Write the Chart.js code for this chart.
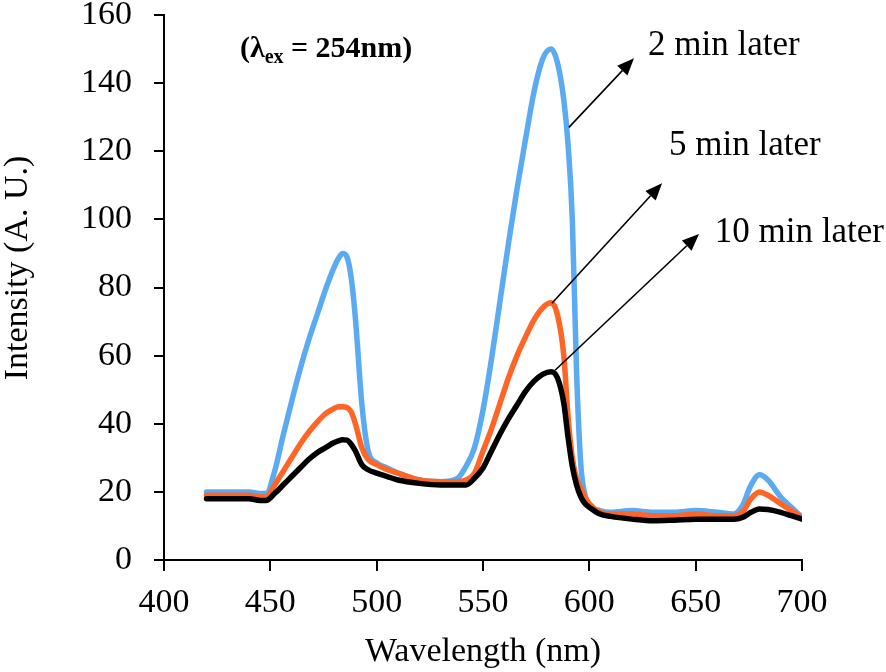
<!DOCTYPE html>
<html>
<head>
<meta charset="utf-8">
<script src="https://cdn.jsdelivr.net/npm/chart.js@4.4.1/dist/chart.umd.min.js"></script>
<style>
  html, body { margin: 0; padding: 0; background: #fff; }
  #wrap { width: 886px; height: 672px; }
</style>
</head>
<body>
<div id="wrap"><canvas id="spectra" width="886" height="672"></canvas></div>
<script>
// wavelength grid (nm) shared by the three spectra
const wavelengths = [420, 430, 440, 445, 448, 452, 456, 460, 464, 468, 472, 476, 480, 482, 484, 486, 488, 490, 493, 496, 500, 505,
  510, 520, 530, 538, 542, 546, 550, 554, 558, 562, 566, 570, 574, 578, 582, 585, 588, 590, 592, 594,
  596, 598, 600, 605, 610, 620, 630, 640, 650, 660, 668, 672, 676, 680, 684, 690, 695, 700];

// intensity
const twoMin = [20, 20, 20, 19.5, 19.5, 26, 36.5, 46.5, 56, 64.5, 72, 79.5, 86, 88.5, 90, 89, 83, 71, 46, 32, 28.5, 27,
  25.5, 23.5, 23, 24, 27.5, 33, 44, 59, 76, 93, 109, 123.5, 137.5, 147, 150, 146, 135, 122, 100, 55,
  28, 19, 16, 14.5, 14, 14.5, 14, 14, 14.5, 14, 13.5, 16, 22, 25, 23.5, 18.5, 15.5, 12.5];
const fiveMin = [19, 19, 19, 18.5, 18.5, 22, 26, 30, 34, 37.5, 40.5, 43, 44.5, 45, 45, 44.8, 43.5, 40, 33, 29.5, 28, 26.5,
  25.5, 23.5, 23, 23, 23.5, 25.5, 32, 38.5, 46, 53.5, 60, 65.5, 70.5, 74, 75.5, 72, 60, 42, 30, 24,
  21, 18.5, 16.5, 14, 13.5, 13.5, 13, 13, 13.5, 13, 13, 14, 18, 20, 19, 16.5, 14.5, 12.5];
const tenMin = [18, 18, 18, 17.5, 17.5, 19.5, 22, 24.5, 27, 29.5, 31.5, 33, 34.5, 35, 35.3, 35.2, 34, 32, 28, 26.5, 25.5, 24.5,
  23.5, 22.5, 22, 22, 22, 24, 27, 32, 37, 41.5, 45.5, 49.5, 52.5, 54.5, 55.3, 53.5, 46, 36, 27.5, 22,
  18.5, 16.5, 15.5, 13.5, 12.8, 12, 11.5, 11.7, 12, 12, 12, 12.5, 14, 15, 14.8, 14, 13, 12];

const seriesNames = ['2 min later', '5 min later', '10 min later'];
const xTicks = [400, 450, 500, 550, 600, 650, 700];
const yTicks = [0, 20, 40, 60, 80, 100, 120, 140, 160];

const serif = "'Liberation Serif', 'Times New Roman', serif";

function pts(vals) {
  return wavelengths.map((w, i) => ({ x: w, y: vals[i] }));
}

// annotation text + arrows, anchored in data units
const arrowNotes = [
  { from: [590.4, 127], to: [621, 147.3], label: seriesNames[0], at: [627.6, 148.2] },
  { from: [582.4, 75.4], to: [634.2, 110.6], label: seriesNames[1], at: [637.5, 118.8] },
  { from: [583.9, 55.7], to: [651.6, 95.7], label: seriesNames[2], at: [659, 93.3] }
];

const notesPlugin = {
  id: 'notes',
  afterDatasetsDraw(chart) {
    const ctx = chart.ctx;
    const xs = chart.scales.x, ys = chart.scales.y;
    ctx.save();
    ctx.fillStyle = '#000';
    ctx.strokeStyle = '#000';
    ctx.lineWidth = 1.6;
    arrowNotes.forEach(n => {
      const x0 = xs.getPixelForValue(n.from[0]), y0 = ys.getPixelForValue(n.from[1]);
      const x1 = xs.getPixelForValue(n.to[0]), y1 = ys.getPixelForValue(n.to[1]);
      const ang = Math.atan2(y1 - y0, x1 - x0);
      const len = 17, half = 7;
      const bx = x1 - len * Math.cos(ang), by = y1 - len * Math.sin(ang);
      ctx.beginPath();
      ctx.moveTo(x0, y0);
      ctx.lineTo(bx, by);
      ctx.stroke();
      ctx.beginPath();
      ctx.moveTo(x1, y1);
      ctx.lineTo(bx + half * Math.sin(ang), by - half * Math.cos(ang));
      ctx.lineTo(bx - half * Math.sin(ang), by + half * Math.cos(ang));
      ctx.closePath();
      ctx.fill();
      ctx.font = '35px ' + serif;
      ctx.textAlign = 'left';
      ctx.textBaseline = 'alphabetic';
      ctx.fillText(n.label, xs.getPixelForValue(n.at[0]), ys.getPixelForValue(n.at[1]));
    });

    // excitation note
    let tx = xs.getPixelForValue(435.7);
    const ty = ys.getPixelForValue(147.6);
    ctx.font = 'bold 30px ' + serif;
    ctx.fillText('(\u03bb', tx, ty);
    tx += ctx.measureText('(\u03bb').width;
    ctx.font = 'bold 20px ' + serif;
    ctx.fillText('ex', tx, ty + 6);
    tx += ctx.measureText('ex').width;
    ctx.font = 'bold 30px ' + serif;
    ctx.fillText(' = 254nm)', tx, ty);

    // y axis title, set a little above the plot centre as in the figure
    ctx.translate(27, 268);
    ctx.rotate(-Math.PI / 2);
    ctx.font = '34px ' + serif;
    ctx.textAlign = 'center';
    ctx.fillText('Intensity (A. U.)', 0, 0);
    ctx.restore();
  }
};

new Chart(document.getElementById('spectra'), {
  type: 'line',
  data: {
    datasets: [
      { label: seriesNames[2], data: pts(tenMin), borderColor: '#000000', order: 1 },
      { label: seriesNames[1], data: pts(fiveMin), borderColor: '#FF6526', order: 2 },
      { label: seriesNames[0], data: pts(twoMin), borderColor: '#5AABF2', order: 3 }
    ]
  },
  options: {
    responsive: false,
    animation: false,
    layout: { padding: { top: 15, right: 84, left: 0, bottom: 0 } },
    elements: {
      point: { radius: 0 },
      line: { borderWidth: 5.5, cubicInterpolationMode: 'monotone', borderCapStyle: 'round', borderJoinStyle: 'round', fill: false }
    },
    plugins: { legend: { display: false }, tooltip: { enabled: false } },
    scales: {
      x: {
        type: 'linear', min: 400, max: 700,
        afterFit: s => { s.height = 112; s.paddingLeft = 0; s.paddingRight = 0; },
        afterBuildTicks: s => { s.ticks = xTicks.map(v => ({ value: v })); },
        grid: { drawOnChartArea: false, color: '#000', tickLength: 11, lineWidth: 2 },
        border: { color: '#000', width: 2 },
        ticks: { color: '#000', font: { family: serif, size: 34 }, padding: 12, maxRotation: 0 },
        title: { display: true, text: 'Wavelength (nm)', color: '#000', font: { family: serif, size: 34 }, padding: { top: 0, bottom: 0 } }
      },
      y: {
        min: 0, max: 160,
        afterFit: s => { s.width = 164; s.paddingTop = 0; s.paddingBottom = 0; },
        afterBuildTicks: s => { s.ticks = yTicks.map(v => ({ value: v })); },
        grid: { drawOnChartArea: false, color: '#000', tickLength: 10, lineWidth: 2 },
        border: { color: '#000', width: 2 },
        ticks: { color: '#000', font: { family: serif, size: 34 }, padding: 22 },
        title: { display: false }
      }
    }
  },
  plugins: [notesPlugin]
});
</script>
</body>
</html>
